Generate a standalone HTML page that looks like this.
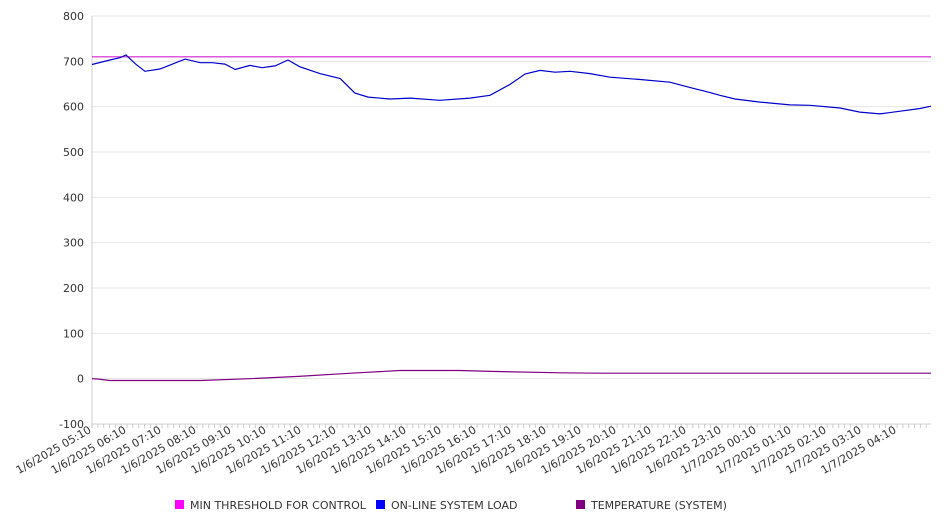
<!DOCTYPE html>
<html><head><meta charset="utf-8"><style>
body{margin:0;background:#fff;font-family:"DejaVu Sans","Liberation Sans",sans-serif;}
svg text{font-family:"DejaVu Sans","Liberation Sans",sans-serif;fill:#333;}
</style></head><body>
<svg id="c" width="946" height="526"></svg>
<script>
// hours since 1/6/2025 05:10
const loadHours=[0,0.51,0.8,0.97,1.23,1.51,1.94,2.37,2.66,3.09,3.43,3.8,4.09,4.51,4.86,5.23,5.6,5.94,6.51,7.09,7.51,7.89,8.51,9.09,9.94,10.8,11.37,11.94,12.37,12.8,13.23,13.66,14.23,14.8,15.66,16.51,17.09,17.66,17.94,18.37,19.09,19.94,20.51,21.37,21.94,22.51,23.09,23.66,23.97];
const loadValues=[693,703,708,714,695,678,683,696,705,697,697,694,682,691,686,690,703,688,673,662,630,621,617,619,614,619,625,649,672,680,676,678,673,665,660,654,642,631,625,617,610,604,603,597,588,584,590,596,601];
const tempHours=[0,0.2,0.5,3.1,4.5,5.9,7.4,8.8,10.5,11.4,13.4,14.5,23.97];
const tempValues=[0,-1,-4,-4,0,5,12,18,18,16,13,12,12];
const threshold=[710];
const yTicks=[-100,0,100,200,300,400,500,600,700,800];
const xLabels=["1/6/2025 05:10","1/6/2025 06:10","1/6/2025 07:10","1/6/2025 08:10","1/6/2025 09:10","1/6/2025 10:10","1/6/2025 11:10","1/6/2025 12:10","1/6/2025 13:10","1/6/2025 14:10","1/6/2025 15:10","1/6/2025 16:10","1/6/2025 17:10","1/6/2025 18:10","1/6/2025 19:10","1/6/2025 20:10","1/6/2025 21:10","1/6/2025 22:10","1/6/2025 23:10","1/7/2025 00:10","1/7/2025 01:10","1/7/2025 02:10","1/7/2025 03:10","1/7/2025 04:10"];
const svg=document.getElementById('c');const NS='http://www.w3.org/2000/svg';
const L=92,R=931,T=16,B=424,HMAX=23.97;
const x=h=>L+h/HMAX*(R-L);
const y=v=>B-(v+100)/900*(B-T);
function mk(t,a,p){const e=document.createElementNS(NS,t);for(const k in a)e.setAttribute(k,a[k]);(p||svg).appendChild(e);return e;}
yTicks.forEach(v=>{
 const g=mk('line',{x1:L,x2:R,y1:y(v),y2:y(v),stroke:'#e6e6e6'});
 
 
 const t=mk('text',{x:L-8,y:y(v)+4,'text-anchor':'end','font-size':11});t.textContent=v;
 
 
});
mk('line',{x1:L,x2:L,y1:T,y2:B,stroke:'#ccc'});
mk('line',{x1:L,x2:R,y1:B,y2:B,stroke:'#ccc'});
for(let i=0;i<=143;i++){const xx=x(i/6);mk('line',{x1:xx,x2:xx,y1:B,y2:B+4,stroke:'#ccc'});}
xLabels.forEach((s,i)=>{
 const xx=x(i),t=mk('text',{x:xx,y:B+8,'text-anchor':'end','font-size':11,transform:`rotate(-30 ${xx} ${B+8})`});t.textContent=s;
 
 
});
const th=mk('line',{x1:L,x2:R,y1:y(threshold[0]),y2:y(threshold[0]),stroke:'#d020d0','stroke-width':1.2});


const lp=mk('path',{d:'M'+loadHours.map((h,i)=>x(h).toFixed(1)+','+y(loadValues[i]).toFixed(1)).join('L'),fill:'none',stroke:'#0000cc','stroke-width':1.2});


const tp=mk('path',{d:'M'+tempHours.map((h,i)=>x(h).toFixed(1)+','+y(tempValues[i]).toFixed(1)).join('L'),fill:'none',stroke:'#800080','stroke-width':1.2});


[["MIN THRESHOLD FOR CONTROL","#ff00ff",175],["ON-LINE SYSTEM LOAD","#0000ff",376],["TEMPERATURE (SYSTEM)","#800080",576]].forEach(([s,c,lx])=>{
 const g=mk('g',{});
 
 
 mk('rect',{x:lx,y:500,width:9,height:9,fill:c},g);
 const t=mk('text',{x:lx+15,y:509,'font-size':11},g);t.textContent=s;
});
</script>
</body></html>
